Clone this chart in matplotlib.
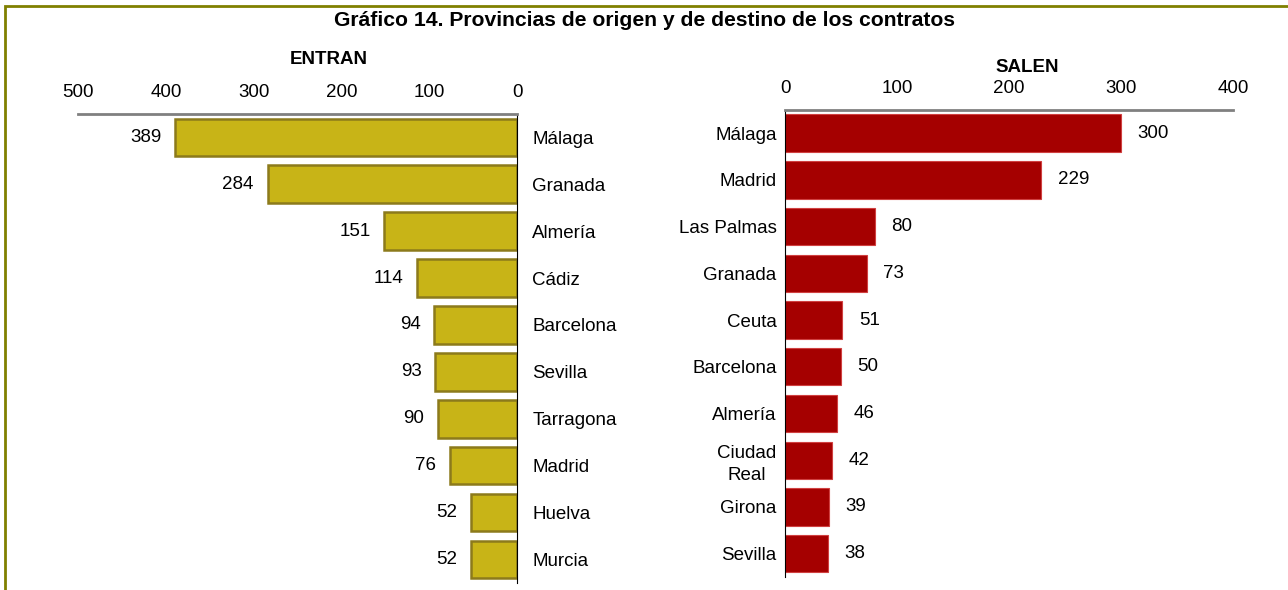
import matplotlib.pyplot as plt
from matplotlib.patches import Rectangle

plt.rcParams['font.family'] = ['Liberation Sans', 'DejaVu Sans']

# datos
entran_prov = ['Málaga', 'Granada', 'Almería', 'Cádiz', 'Barcelona', 'Sevilla',
               'Tarragona', 'Madrid', 'Huelva', 'Murcia']
entran_val = [389, 284, 151, 114, 94, 93, 90, 76, 52, 52]

salen_prov = ['Málaga', 'Madrid', 'Las Palmas', 'Granada', 'Ceuta', 'Barcelona',
              'Almería', 'Ciudad\nReal', 'Girona', 'Sevilla']
salen_val = [300, 229, 80, 73, 51, 50, 46, 42, 39, 38]

entran_ticks = [0, 100, 200, 300, 400, 500]
salen_ticks = [0, 100, 200, 300, 400]

FS = 13.5

fig = plt.figure(figsize=(12.88, 5.9), dpi=100)

# marco verde oliva (arriba e izquierda)
fig.add_artist(Rectangle((0.0040, -0.05), 1.2, 1.039, transform=fig.transFigure,
                         fill=False, edgecolor='#808000', linewidth=2))

fig.text(0.5, 0.966, 'Gráfico 14. Provincias de origen y de destino de los contratos',
         ha='center', va='center', fontsize=15.2, fontweight='bold')

# ENTRAN
ax1 = fig.add_axes([0.0606, 0.012, 0.3408, 0.795])
ypos = list(range(len(entran_prov)))
ax1.barh(ypos, entran_val, height=0.8, color='#C8B417', edgecolor='#8C7A1C', linewidth=1.8)
ax1.set_xlim(500, 0)
ax1.set_ylim(len(entran_prov) - 0.5, -0.5)
ax1.set_xticks(entran_ticks)
ax1.xaxis.tick_top()
ax1.yaxis.tick_right()
ax1.set_yticks(ypos)
ax1.set_yticklabels(entran_prov)
ax1.tick_params(axis='both', length=0, labelsize=FS)
ax1.tick_params(axis='x', pad=9)
ax1.tick_params(axis='y', pad=11)
for s in ['left', 'bottom']:
    ax1.spines[s].set_visible(False)
ax1.spines['top'].set_color('#808080')
ax1.spines['top'].set_linewidth(2)
ax1.spines['right'].set_color('black')
for i, v in enumerate(entran_val):
    ax1.annotate(str(v), (v, i), xytext=(-10, 0), textcoords='offset points',
                 ha='right', va='center', fontsize=FS)
ax1.set_title('ENTRAN', fontsize=13.5, fontweight='bold', x=0.57, pad=36)

# SALEN
ax2 = fig.add_axes([0.6095, 0.022, 0.3478, 0.792])
ypos2 = list(range(len(salen_prov)))
ax2.barh(ypos2, salen_val, height=0.8, color='#A50000', edgecolor='#D04040', linewidth=0.8)
ax2.set_xlim(0, 400)
ax2.set_ylim(len(salen_prov) - 0.5, -0.5)
ax2.set_xticks(salen_ticks)
ax2.xaxis.tick_top()
ax2.set_yticks(ypos2)
ax2.set_yticklabels(salen_prov, ha='right', multialignment='center', linespacing=1.35)
ax2.tick_params(axis='both', length=0, labelsize=FS)
ax2.tick_params(axis='x', pad=9)
ax2.tick_params(axis='y', pad=6)
for s in ['right', 'bottom']:
    ax2.spines[s].set_visible(False)
ax2.spines['top'].set_color('#808080')
ax2.spines['top'].set_linewidth(2)
ax2.spines['left'].set_color('black')
for i, v in enumerate(salen_val):
    ax2.annotate(str(v), (v, i), xytext=(12, 0), textcoords='offset points',
                 ha='left', va='center', fontsize=FS)
ax2.set_title('SALEN', fontsize=13.5, fontweight='bold', x=0.54, pad=27)

fig.savefig('out.png', dpi=100)
